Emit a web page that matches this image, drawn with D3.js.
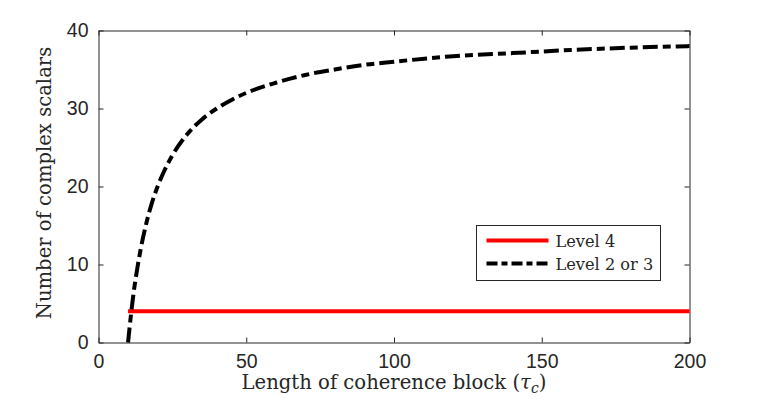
<!DOCTYPE html>
<html>
<head>
<meta charset="utf-8">
<script src="https://cdn.jsdelivr.net/npm/d3@7"></script>
<style>
  body { margin: 0; background: #fff; }
  .tick text { font-family: "Liberation Sans", Arial, sans-serif; font-size: 19.5px; fill: #262626; }
  .lbl { font-family: "DejaVu Serif", "Liberation Serif", serif; font-size: 19.6px; fill: #262626; }
</style>
</head>
<body>
<svg id="chart" width="763" height="407"></svg>
<script>
// coherence block length vs scalars
var tau_level23 = [10, 11, 12, 13, 14, 16, 18, 20, 22, 25, 30, 35, 40, 45, 50, 60, 70, 80, 90, 100, 120, 140, 160, 180, 200];
var val_level23 = [0, 3.6, 6.7, 9.2, 11.4, 15, 17.8, 20, 21.8, 24, 26.7, 28.6, 30, 31.1, 32, 33.3, 34.3, 35, 35.6, 36, 36.7, 37.1, 37.5, 37.8, 38];
var tau_level4 = [10, 200];
var val_level4 = [4, 4];
var x_ticks = [0, 50, 100, 150, 200];
var y_ticks = [0, 10, 20, 30, 40];
var legend_names = ['Level 4', 'Level 2 or 3'];

var margin = {left: 98.5, top: 30.5, right: 73.5, bottom: 64.5};
var width = 763 - margin.left - margin.right;
var height = 407 - margin.top - margin.bottom;

var svg = d3.select('#chart');
var g = svg.append('g')
  .attr('transform', 'translate(' + margin.left + ',' + margin.top + ')');

var x_scale = d3.scaleLinear().domain([0, 200]).range([0, width]);
var y_scale = d3.scaleLinear().domain([0, 40]).range([height, 0]);

var axis_color = '#262626';

// axes with inward ticks, plus mirrored ticks on top/right
g.append('g')
  .attr('transform', 'translate(0,' + height + ')')
  .call(d3.axisBottom(x_scale).tickValues(x_ticks).tickSizeInner(-5).tickSizeOuter(0).tickPadding(12));
g.append('g')
  .call(d3.axisLeft(y_scale).tickValues(y_ticks).tickSizeInner(-5).tickSizeOuter(0).tickPadding(10));
g.append('g')
  .call(d3.axisTop(x_scale).tickValues(x_ticks).tickSizeInner(-5).tickSizeOuter(0).tickFormat(''));
g.append('g')
  .attr('transform', 'translate(' + width + ',0)')
  .call(d3.axisRight(y_scale).tickValues(y_ticks).tickSizeInner(-5).tickSizeOuter(0).tickFormat(''));

g.selectAll('.domain').style('stroke', axis_color).style('stroke-width', '1px');
g.selectAll('.tick line').style('stroke', axis_color);

var line = d3.line()
  .x(function(d){ return x_scale(d[0]); })
  .y(function(d){ return y_scale(d[1]); });

g.append('path')
  .datum(d3.zip(tau_level4, val_level4))
  .attr('d', line)
  .style('fill', 'none')
  .style('stroke', '#ff0000')
  .style('stroke-width', '4px');

g.append('path')
  .datum(d3.zip(tau_level23, val_level23))
  .attr('d', line.curve(d3.curveMonotoneX))
  .style('fill', 'none')
  .style('stroke', '#000')
  .style('stroke-width', '4px')
  .style('stroke-dasharray', '15,5,8,5');

// axis labels
svg.append('text')
  .attr('class', 'lbl')
  .attr('x', margin.left + width / 2)
  .attr('y', 389)
  .attr('text-anchor', 'middle')
  .html('Length of coherence block (<tspan font-style="italic">τ</tspan><tspan font-style="italic" font-size="14px" dy="4">c</tspan><tspan dy="-4">)</tspan>');

svg.append('text')
  .attr('class', 'lbl')
  .attr('transform', 'translate(51,183) rotate(-90)')
  .attr('text-anchor', 'middle')
  .text('Number of complex scalars');

// legend
var legend = svg.append('g').attr('transform', 'translate(476.5,225.5)');
legend.append('rect')
  .attr('width', 184)
  .attr('height', 55)
  .style('fill', '#fff')
  .style('stroke', axis_color)
  .style('stroke-width', '1px');

var legend_styles = [
  {stroke: '#ff0000', dash: null},
  {stroke: '#000', dash: '11,4,6,4'}
];

legend.selectAll('.leg_item')
  .data(legend_names)
  .enter()
  .append('g')
  .attr('class', 'leg_item')
  .attr('transform', function(d, i){ return 'translate(0,' + (15 + i * 23) + ')'; })
  .each(function(d, i){
    var item = d3.select(this);
    item.append('line')
      .attr('x1', 10).attr('x2', 72)
      .style('stroke', legend_styles[i].stroke)
      .style('stroke-width', '4px')
      .style('stroke-dasharray', legend_styles[i].dash);
    item.append('text')
      .attr('class', 'lbl')
      .attr('x', 79)
      .attr('y', 6)
      .style('font-size', '16.2px')
      .text(d);
  });
</script>
</body>
</html>
